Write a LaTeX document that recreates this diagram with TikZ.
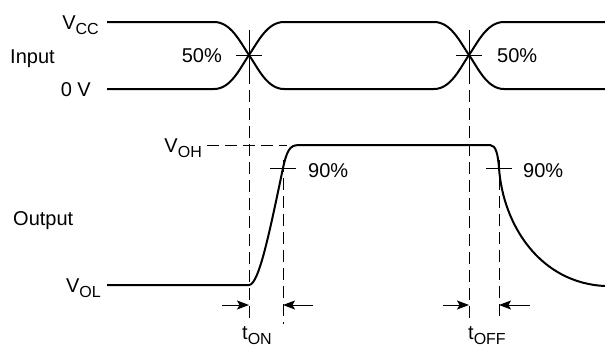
\documentclass[tikz,border=0pt]{standalone}
\usepackage{fontspec}
\setmainfont{Liberation Sans}
\usetikzlibrary{arrows.meta}
\newcommand{\lsub}[1]{\raisebox{-0.25em}{\fontsize{16}{16}\selectfont #1}}
\begin{document}
\begin{tikzpicture}[x=1pt,y=-1pt,
  wave/.style={line width=2pt},
  fine/.style={line width=1pt},
  guide/.style={line width=1pt, dash pattern=on 12pt off 6pt},
  lbl/.style={inner sep=0pt, font=\fontsize{20}{24}\selectfont},
  dimarrow/.style={line width=1pt, -{Stealth[length=12pt,width=9pt,inset=2.5pt]}}
]
\useasboundingbox (0,0) rectangle (605,348);

% key points
\coordinate (c1) at (249,55);
\coordinate (c2) at (469,55);
\coordinate (n1) at (283,168);
\coordinate (n2) at (499,168);

% input waveforms
\draw[wave] (107,22) -- (214,22) .. controls (231,22) and (240,42) .. (c1)
  .. controls (258,68) and (267,89) .. (284,89) -- (434,89)
  .. controls (451,89) and (460,68) .. (c2)
  .. controls (478,42) and (487,22) .. (504,22) -- (605,22);
\draw[wave] (107,89) -- (214,89) .. controls (231,89) and (240,68) .. (c1)
  .. controls (258,42) and (267,22) .. (284,22) -- (434,22)
  .. controls (451,22) and (460,42) .. (c2)
  .. controls (478,68) and (487,89) .. (504,89) -- (605,89);

% output waveform
\draw[wave] (107,285) -- (249,285) .. controls (259,285) and (270,230) .. (n1)
  .. controls (288,145) and (292,145) .. (302,145) -- (490,145)
  .. controls (496,145) and (498,155) .. (n2)
  .. controls (503,225) and (540,283) .. (605,286);

% 50% markers and guides
\draw[fine] (236,55) -- (262,55);
\draw[fine] (249,30) -- (249,72);
\draw[guide] (249,72) -- (249,318);
\draw[fine] (456,55) -- (482,55);
\draw[fine] (469,30) -- (469,72);
\draw[guide] (469,72) -- (469,318);

% 90% markers and guides
\draw[fine] (270,168) -- (296,168);
\draw[guide] (283,160) -- (283,324);
\draw[fine] (486,168) -- (512,168);
\draw[guide] (499,160) -- (499,320);

% VOH guide
\draw[guide] (207,145) -- (287,145);

% timing arrows
\coordinate (a1) at (222,305); \coordinate (a1e) at (249,305);
\coordinate (a2) at (313,305); \coordinate (a2e) at (283,305);
\coordinate (a3) at (443,305); \coordinate (a3e) at (469,305);
\coordinate (a4) at (530,305); \coordinate (a4e) at (499,305);
\draw[dimarrow] (a1) -- (a1e);
\draw[dimarrow] (a2) -- (a2e);
\draw[dimarrow] (a3) -- (a3e);
\draw[dimarrow] (a4) -- (a4e);

% labels
\node[lbl, anchor=base east] (vcc) at (99,29) {V\lsub{CC}};
\node[lbl, anchor=base west] (inp) at (10,63) {Input};
\node[lbl, anchor=base east] (zv) at (91,96) {0 V};
\node[lbl, anchor=base east] (p1) at (222,62) {50\%};
\node[lbl, anchor=base west] (p2) at (497,62) {50\%};
\node[lbl, anchor=base east] (voh) at (202,152) {V\lsub{OH}};
\node[lbl, anchor=base west] (out) at (13,225) {Output};
\node[lbl, anchor=base east] (vol) at (101,292) {V\lsub{OL}};
\node[lbl, anchor=base west] (q1) at (308,177) {90\%};
\node[lbl, anchor=base west] (q2) at (523,177) {90\%};
\node[lbl, anchor=base west] (ton) at (242,339) {t\lsub{ON}};
\node[lbl, anchor=base west] (toff) at (468,339) {t\lsub{OFF}};
\end{tikzpicture}
\end{document}
